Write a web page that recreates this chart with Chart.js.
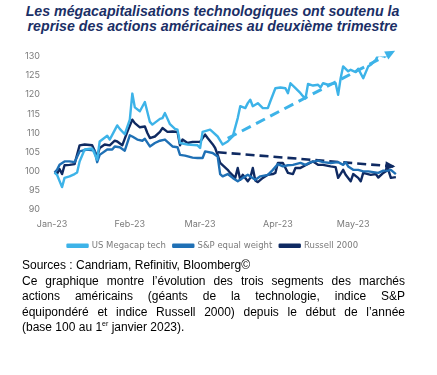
<!DOCTYPE html>
<html>
<head>
<meta charset="utf-8">
<script src="https://cdn.jsdelivr.net/npm/chart.js@4.4.1/dist/chart.umd.min.js"></script>
<style>
  body { margin: 0; background: #fff; width: 437px; height: 375px; overflow: hidden; position: relative; font-family: "Liberation Sans", Arial, sans-serif; }
  #title { position: absolute; top: 4px; left: -6px; width: 437px; text-align: center; font-weight: bold; font-style: italic; font-size: 14.2px; line-height: 14.5px; color: #1b2f66; }
  #wrap { position: absolute; left: 0; top: 39px; width: 437px; height: 221px; }
  #notes { position: absolute; left: 22px; top: 258px; width: 383px; font-size: 12px; line-height: 15.5px; color: #000; }
  #notes span { display: block; }
  #notes .j { text-align: justify; text-align-last: justify; }
  sup { font-size: 7px; line-height: 0; vertical-align: 5px; }
</style>
</head>
<body>
<div id="title">Les mégacapitalisations technologiques ont soutenu la<br>reprise des actions américaines au deuxième trimestre</div>
<div id="wrap"><canvas id="chart"></canvas></div>
<div id="notes">
  <span>Sources : Candriam, Refinitiv, Bloomberg©</span>
  <span class="j">Ce graphique montre l’évolution des trois segments des marchés</span>
  <span class="j">actions américains (géants de la technologie, indice S&amp;P</span>
  <span class="j">équipondéré et indice Russell 2000) depuis le début de l’année</span>
  <span>(base 100 au 1<sup>er</sup> janvier 2023).</span>
</div>
<script>
// days counted from 1 Jan 2023
const monthTicks = [0, 31, 59, 90, 120];
const monthLabels = ['Jan-23', 'Feb-23', 'Mar-23', 'Apr-23', 'May-23'];
const yTicks = [90, 95, 100, 105, 110, 115, 120, 125, 130];

const techDays = [1, 2, 4, 5, 7, 9, 10, 11, 13, 16, 18, 19, 22, 23, 26, 27, 29, 31, 32, 33, 35, 37, 39, 40, 43, 44, 45, 47, 49, 50, 51, 54, 58, 59, 60, 63, 64, 66, 68, 70, 72, 74, 75, 77, 78, 79, 80, 82, 84, 86, 87, 89, 91, 93, 94, 95, 97, 99, 100, 101, 102, 104, 106, 107, 108, 110, 111, 113, 114, 115, 116, 118, 119, 121, 122, 124, 126, 127, 129, 130, 132, 133, 134];
const techValues = [99.7, 99.1, 95.9, 98.3, 98.7, 99.3, 99.7, 102.6, 105.7, 106.0, 103.0, 107.8, 109.3, 108.3, 112.0, 111.1, 109.7, 113.5, 120.3, 116.7, 115.7, 118.1, 112.9, 112.2, 113.7, 113.9, 115.2, 112.3, 111.1, 110.9, 107.4, 107.0, 106.8, 106.1, 110.3, 110.9, 110.3, 109.1, 107.0, 107.8, 109.1, 113.9, 117.0, 116.5, 117.8, 118.7, 117.0, 117.8, 116.5, 116.5, 118.3, 121.7, 121.9, 121.7, 120.4, 123.0, 121.7, 120.4, 119.6, 119.0, 122.8, 122.4, 122.6, 121.9, 123.0, 122.6, 122.8, 123.0, 120.0, 124.3, 127.4, 126.1, 126.5, 125.9, 126.8, 124.3, 127.4, 127.8, 129.1, 130.4, 130.0, 130.4, 130.9];

const eqwDays = [1, 2, 3, 5, 7, 9, 11, 14, 17, 18, 19, 22, 24, 25, 27, 29, 31, 32, 34, 36, 37, 39, 41, 43, 45, 46, 48, 50, 51, 53, 56, 58, 60, 61, 64, 66, 67, 68, 70, 72, 74, 76, 78, 81, 83, 86, 88, 90, 92, 94, 96, 99, 101, 103, 106, 108, 111, 114, 116, 117, 118, 120, 122, 124, 126, 128, 130, 132, 134, 135, 137];
const eqwValues = [99.7, 100.4, 101.7, 102.6, 102.6, 102.4, 105.2, 105.7, 105.4, 102.4, 104.3, 105.7, 105.7, 106.5, 106.3, 105.4, 109.4, 109.1, 108.3, 108.0, 108.5, 106.5, 107.4, 108.0, 108.3, 107.7, 106.5, 106.3, 104.3, 104.1, 103.6, 103.5, 103.5, 105.2, 104.8, 103.9, 99.3, 98.7, 99.3, 98.3, 97.4, 98.3, 99.1, 97.8, 98.7, 99.1, 100.4, 101.9, 101.3, 101.6, 101.7, 102.2, 101.7, 102.4, 102.8, 102.4, 102.2, 102.4, 101.7, 102.4, 101.3, 100.4, 100.4, 100.0, 100.0, 99.8, 99.6, 100.2, 100.2, 100.4, 99.3];

const rutDays = [1, 2, 3, 4, 5, 7, 9, 11, 13, 16, 18, 19, 21, 23, 25, 26, 28, 30, 32, 33, 35, 37, 38, 39, 41, 43, 44, 46, 48, 50, 51, 52, 54, 56, 59, 61, 62, 64, 65, 66, 67, 70, 71, 73, 74, 75, 76, 78, 79, 80, 81, 82, 84, 86, 88, 89, 90, 92, 94, 96, 97, 99, 101, 104, 106, 108, 111, 113, 114, 116, 117, 119, 120, 122, 123, 124, 127, 129, 130, 132, 134, 135, 137];
const rutValues = [99.7, 99.3, 100.6, 99.3, 101.6, 101.7, 101.9, 106.8, 107.0, 106.8, 103.9, 106.1, 107.0, 106.8, 108.0, 107.8, 106.8, 110.3, 113.5, 112.6, 111.5, 111.7, 110.0, 108.7, 109.1, 110.3, 111.3, 110.3, 110.4, 110.3, 106.8, 108.3, 107.4, 107.7, 107.7, 109.6, 108.7, 107.1, 106.1, 104.3, 102.2, 100.4, 99.6, 98.3, 100.9, 97.8, 99.1, 97.4, 98.3, 100.9, 97.6, 97.2, 98.3, 99.1, 99.3, 99.6, 102.2, 102.2, 99.6, 99.3, 100.9, 100.9, 101.6, 102.6, 101.7, 101.7, 101.3, 101.1, 98.3, 100.4, 99.1, 97.4, 99.3, 98.3, 97.4, 99.6, 99.1, 99.3, 98.4, 99.6, 100.4, 98.3, 98.5];

// dashed trend arrows (start / end)
const techTrendDays = [70, 136];
const techTrendValues = [108.6, 131.2];
const rutTrendDays = [66, 136];
const rutTrendValues = [105.0, 101.3];

const colTech = '#3db3e8';
const colEqw = '#1f70b5';
const colRut = '#0f2a62';

const pts = (days, vals) => days.map((d, i) => ({ x: d, y: vals[i] }));

const arrowHeads = {
    id: 'arrowHeads',
    afterDatasetsDraw(chart) {
        const ctx = chart.ctx;
        chart.data.datasets.forEach((ds, i) => {
            if (!ds.arrow) return;
            const pts = chart.getDatasetMeta(i).data;
            const a = pts[pts.length - 2], b = pts[pts.length - 1];
            const ang = Math.atan2(b.y - a.y, b.x - a.x);
            const len = 8, half = 4.5;
            ctx.save();
            ctx.fillStyle = ds.borderColor;
            ctx.translate(b.x, b.y);
            ctx.rotate(ang);
            ctx.beginPath();
            ctx.moveTo(2, 0);
            ctx.lineTo(-len, -half);
            ctx.lineTo(-len, half);
            ctx.closePath();
            ctx.fill();
            ctx.restore();
        });
    }
};

const lineStyle = {
    fill: false,
    tension: 0,
    pointRadius: 0,
    borderWidth: 2.4,
    borderJoinStyle: 'round'
};

const tickFont = { family: 'Inter', size: 9 };

new Chart(document.getElementById('chart'), {
    type: 'line',
    data: {
        datasets: [
            { ...lineStyle, label: 'US Megacap tech', data: pts(techDays, techValues), borderColor: colTech, backgroundColor: colTech },
            { ...lineStyle, label: 'S&P equal weight', data: pts(eqwDays, eqwValues), borderColor: colEqw, backgroundColor: colEqw },
            { ...lineStyle, label: 'Russell 2000', data: pts(rutDays, rutValues), borderColor: colRut, backgroundColor: colRut },
            { ...lineStyle, label: 'trend tech', arrow: true, data: pts(techTrendDays, techTrendValues), borderColor: colTech, borderWidth: 3, borderDash: [10, 6] },
            { ...lineStyle, label: 'trend rut', arrow: true, data: pts(rutTrendDays, rutTrendValues), borderColor: colRut, borderWidth: 2.6, borderDash: [9, 5] }
        ]
    },
    options: {
        responsive: true,
        maintainAspectRatio: false,
        animation: false,
        layout: { padding: { left: 0, right: 6, top: 4, bottom: 0 } },
        plugins: {
            tooltip: { enabled: false },
            legend: {
                position: 'bottom',
                labels: {
                    // only the three series; trailing spaces widen the gap between items
                    generateLabels: chart => Chart.defaults.plugins.legend.labels.generateLabels(chart)
                        .filter(item => item.datasetIndex < 3)
                        .map(item => ({ ...item, text: item.text + '  ' })),
                    boxWidth: 20,
                    boxHeight: 2,
                    padding: 2,
                    color: '#7a7a7a',
                    font: { family: 'DejaVu Sans', size: 8.5 }
                }
            }
        },
        scales: {
            x: {
                type: 'linear',
                min: 0,
                max: 151,
                afterBuildTicks: axis => { axis.ticks = monthTicks.map(v => ({ value: v })); },
                ticks: {
                    padding: 9.5,
                    maxRotation: 0,
                    color: '#7a7a7a',
                    font: tickFont,
                    callback: v => monthLabels[monthTicks.indexOf(v)]
                },
                grid: { display: false, drawTicks: false },
                border: { display: false }
            },
            y: {
                min: 90,
                max: 130,
                afterFit: axis => { axis.width = 52; },
                afterBuildTicks: axis => { axis.ticks = yTicks.map(v => ({ value: v })); },
                ticks: {
                    padding: 12,
                    color: '#7a7a7a',
                    font: tickFont
                },
                grid: { display: false, drawTicks: false },
                border: { display: false }
            }
        }
    },
    plugins: [arrowHeads]
});
</script>
</body>
</html>
